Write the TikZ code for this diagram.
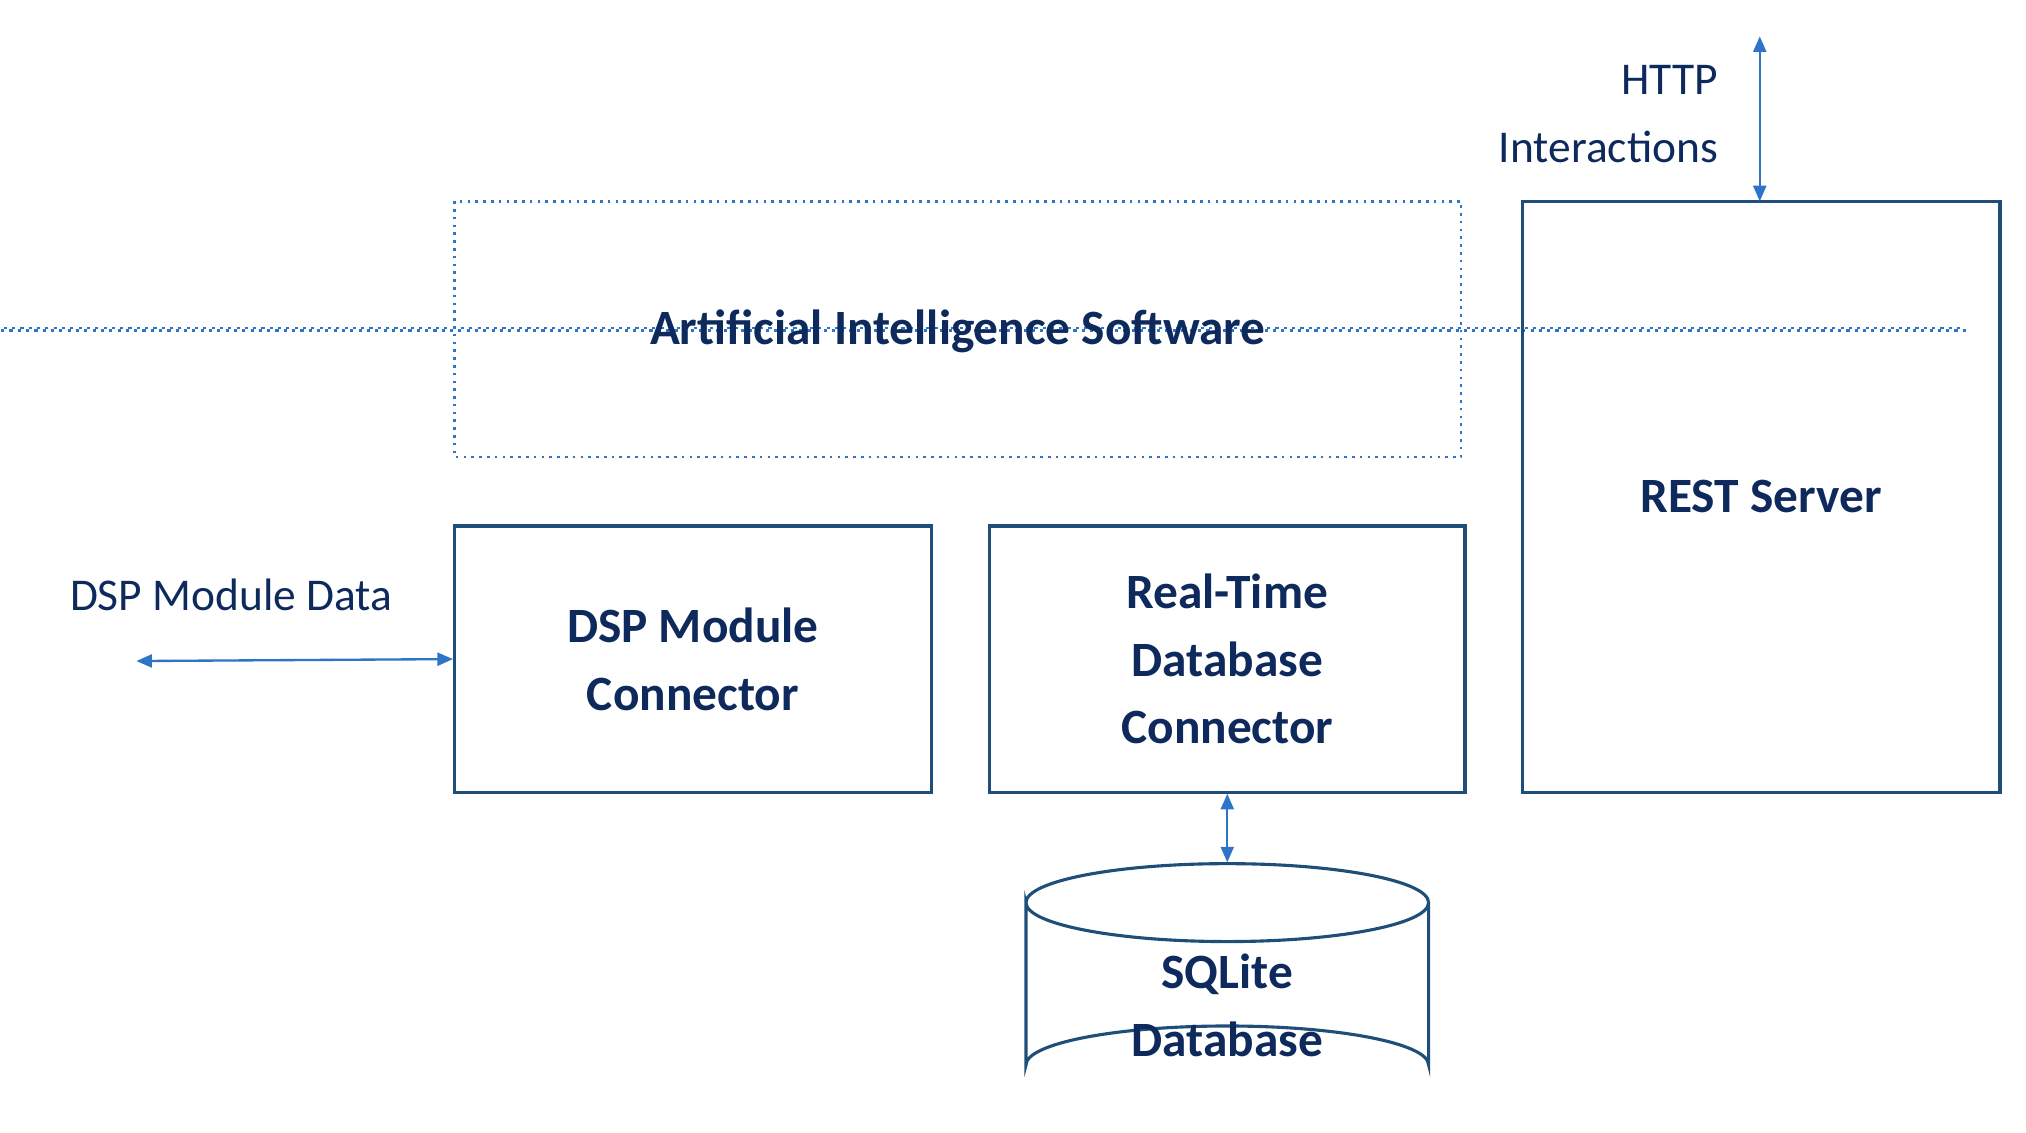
\documentclass[tikz,border=0pt]{standalone}
\usepackage{fontspec}
\setmainfont{Carlito}
\usetikzlibrary{arrows.meta}
\definecolor{bord}{HTML}{1F4E79}
\definecolor{txt}{HTML}{0E2A5C}
\definecolor{arr}{HTML}{2E75C8}
\begin{document}
\begin{tikzpicture}[x=0.5pt,y=-0.5pt,
  box/.style={draw=bord,line width=1.2pt,text=txt,font=\fontsize{19}{26}\selectfont\bfseries,align=center},
  lbl/.style={text=txt,font=\fontsize{17.5}{26}\selectfont},
  con/.style={draw=arr,line width=0.9pt,{Triangle[length=6pt,width=5pt]}-{Triangle[length=6pt,width=5pt]}}]
\useasboundingbox (0,0) rectangle (1560,872);
\node[box,draw=arr,dotted,line width=1pt,minimum width=775\pgflinewidth,inner sep=0] (ai) at (737.5,253.5) {};
\path[draw=arr,dotted,line width=1pt] (350,155) rectangle (1125,352);
\node[text=txt,font=\fontsize{19}{26}\selectfont\bfseries] (ait) at (737.5,255) {Artificial Intelligence Software};
\node[box,minimum width=184pt,minimum height=227.5pt] (rest) at (1356,382.5) {REST Server};
\node[box,minimum width=183.5pt,minimum height=102.5pt] (dsp) at (533.5,507.5) {DSP Module\\Connector};
\node[box,minimum width=183pt,minimum height=102.5pt] (rt) at (945,507.5) {Real-Time\\Database\\Connector};
% cylinder
\draw[bord,line width=1.2pt] (790,695) arc[start angle=180,end angle=360,x radius=155,y radius=30]
  arc[start angle=0,end angle=180,x radius=155,y radius=30] -- (790,820)
  arc[start angle=180,end angle=360,x radius=155,y radius=30] -- (1100,695);
\coordinate (cyltop) at (945,664);
\node[text=txt,font=\fontsize{19}{26}\selectfont\bfseries,align=center] (db) at (945,774) {SQLite\\Database};
\coordinate (dspl) at (105,509);
\node[lbl] (dspd) at (178,458) {DSP Module Data};
\coordinate (httpt) at (1355,28);
\node[lbl,anchor=east,align=right] (http) at (1330,88) {HTTP\\Interactions};
\draw[con] (dspl) -- (dsp.west);
\draw[con] (rt.south) -- (cyltop);
\draw[con] (httpt) -- (1355,155);
\end{tikzpicture}
\end{document}
